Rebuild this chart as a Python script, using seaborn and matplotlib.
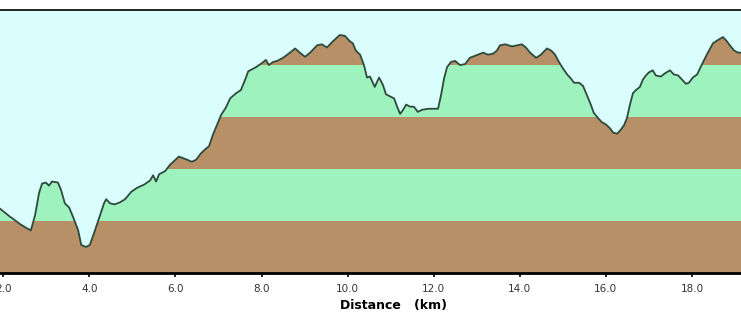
import matplotlib
matplotlib.use('Agg')
import matplotlib.pyplot as plt
import seaborn as sns
import numpy as np

# elevation profile
distance_km = [
    1.92, 2.04, 2.16, 2.23, 2.39, 2.55, 2.64, 2.74, 2.83, 2.90,
    2.99, 3.06, 3.13, 3.27, 3.34, 3.43, 3.53, 3.62, 3.74, 3.81,
    3.92, 4.01, 4.13, 4.25, 4.34, 4.39, 4.48, 4.59, 4.71, 4.83,
    4.97, 5.11, 5.27, 5.41, 5.48, 5.55, 5.62, 5.76, 5.87, 6.08,
    6.27, 6.38, 6.48, 6.59, 6.69, 6.78, 6.87, 6.96, 7.06, 7.17,
    7.27, 7.41, 7.52, 7.62, 7.69, 7.87, 8.01, 8.10, 8.17, 8.27,
    8.36, 8.50, 8.66, 8.78, 8.89, 9.01, 9.13, 9.29, 9.40, 9.52,
    9.66, 9.82, 9.94, 10.05, 10.12, 10.19, 10.29, 10.38, 10.45, 10.52,
    10.63, 10.73, 10.82, 10.89, 10.98, 11.08, 11.15, 11.22, 11.29, 11.36,
    11.45, 11.54, 11.63, 11.73, 11.87, 11.98, 12.10, 12.17, 12.24, 12.31,
    12.40, 12.50, 12.61, 12.73, 12.84, 13.03, 13.15, 13.26, 13.38, 13.47,
    13.54, 13.66, 13.82, 14.05, 14.14, 14.24, 14.38, 14.49, 14.63, 14.73,
    14.82, 14.91, 15.00, 15.10, 15.19, 15.26, 15.38, 15.47, 15.56, 15.65,
    15.72, 15.82, 15.91, 16.00, 16.10, 16.17, 16.26, 16.33, 16.42, 16.49,
    16.56, 16.63, 16.70, 16.79, 16.86, 16.93, 17.00, 17.09, 17.16, 17.28,
    17.37, 17.49, 17.58, 17.68, 17.77, 17.86, 17.93, 18.02, 18.12, 18.19,
    18.26, 18.37, 18.49, 18.60, 18.72, 18.81, 18.88, 18.98, 19.07, 19.14,
]
elevation_m = [
    162, 158, 154, 152, 147, 143, 141, 156, 177, 186,
    187, 184, 188, 187, 180, 167, 163, 154, 141, 127,
    125, 127, 141, 156, 167, 171, 167, 166, 168, 171,
    178, 182, 185, 189, 194, 188, 195, 198, 204, 212,
    209, 207, 209, 215, 219, 222, 233, 242, 252, 259,
    268, 273, 276, 286, 294, 298, 302, 305, 300, 303,
    304, 307, 312, 316, 312, 308, 312, 319, 320, 317,
    323, 329, 328, 323, 321, 314, 310, 300, 288, 289,
    279, 288, 281, 272, 270, 268, 260, 253, 257, 262,
    260, 260, 255, 257, 258, 258, 258, 271, 287, 298,
    303, 304, 300, 301, 307, 310, 312, 310, 311, 314,
    319, 320, 318, 320, 317, 312, 307, 310, 316, 314,
    310, 303, 297, 291, 287, 283, 283, 280, 271, 262,
    254, 249, 245, 243, 239, 235, 234, 237, 242, 249,
    262, 273, 276, 279, 286, 290, 293, 295, 290, 289,
    292, 295, 291, 290, 286, 282, 283, 288, 291, 297,
    303, 312, 321, 324, 327, 323, 319, 314, 312, 312,
]
band_edges = [100, 150, 200, 250, 300, 353]
x_ticks = [2.0, 4.0, 6.0, 8.0, 10.0, 12.0, 14.0, 16.0, 18.0]

SKY = '#dafefe'
GREEN = '#9ef2bd'
BROWN = '#b89068'
LINE = '#2e4a3c'

sns.set_style("white")

fig = plt.figure(figsize=(7.41, 3.32), dpi=100)
ax = fig.add_axes([0, 59 / 332, 1, 263 / 332])

# alternating bands, then mask everything above the profile with sky colour
for i in range(len(band_edges) - 1):
    ax.axhspan(band_edges[i], band_edges[i + 1],
               color=BROWN if i % 2 == 0 else GREEN, lw=0, zorder=1)
ax.fill_between(distance_km, elevation_m, band_edges[-1] + 10,
                color=SKY, lw=0, zorder=2)
sns.lineplot(x=distance_km, y=elevation_m, ax=ax, color=LINE,
             linewidth=1.3, estimator=None, sort=False, zorder=3)

ax.set_xlim(1.923, 19.14)
ax.set_ylim(band_edges[0], band_edges[-1])
ax.set_xticks(x_ticks)
ax.set_xticklabels([f'{t:.1f}' for t in x_ticks], fontsize=7.5)
ax.set_yticks([])
ax.tick_params(axis='x', direction='out', length=3, width=1.2, pad=5,
               colors='black', labelcolor='#333333', bottom=True)

for side in ['left', 'right']:
    ax.spines[side].set_visible(False)
ax.spines['top'].set_color('black')
ax.spines['top'].set_linewidth(1.2)
ax.spines['bottom'].set_color('black')
ax.spines['bottom'].set_linewidth(2)

ax.set_xlabel('Distance   (km)', fontsize=9, fontweight='bold',
              color='black')
ax.xaxis.set_label_coords(394 / 741, -26 / 263)

fig.savefig('out.png', dpi=100)
